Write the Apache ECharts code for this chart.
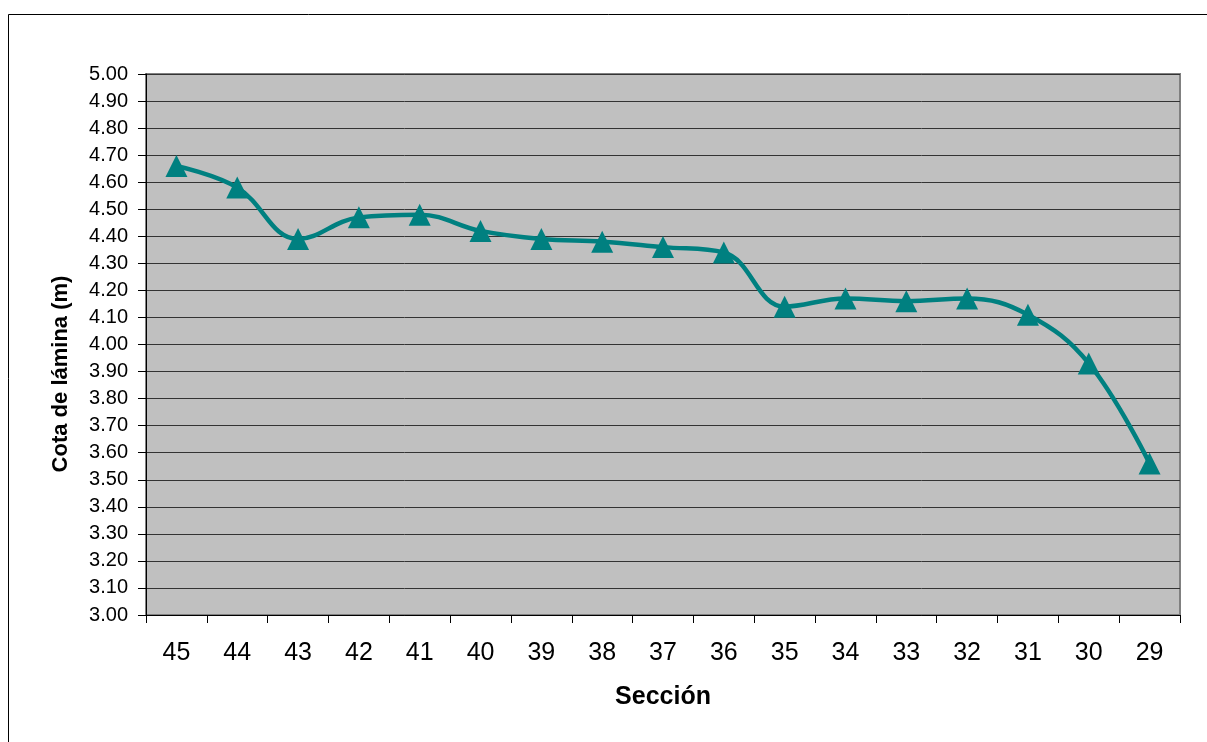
<!DOCTYPE html>
<html>
<head>
<meta charset="utf-8">
<script src="https://cdn.jsdelivr.net/npm/echarts@6/dist/echarts.min.js"></script>
<style>
  html, body { margin: 0; padding: 0; background: #ffffff; }
  #chart { width: 1207px; height: 742px; }
</style>
</head>
<body>
<div id="chart"></div>
<script>
// Sections along the reach, upstream to downstream
const secciones = ['45', '44', '43', '42', '41', '40', '39', '38', '37', '36', '35', '34', '33', '32', '31', '30', '29'];
// Water surface elevation at each section (m)
const cotaLamina = [4.66, 4.58, 4.39, 4.47, 4.48, 4.42, 4.39, 4.38, 4.36, 4.34, 4.14, 4.17, 4.16, 4.17, 4.11, 3.93, 3.56];

const yMin = 3.0, yMax = 5.0, yStep = 0.1;
const fontFamily = '"Liberation Sans", Arial, sans-serif';

const chart = echarts.init(document.getElementById('chart'), null, { renderer: 'canvas' });

chart.setOption({
  backgroundColor: '#ffffff',
  animation: false,
  textStyle: { fontFamily: fontFamily },
  graphic: [
    {
      type: 'rect',
      silent: true,
      shape: { x: 8.5, y: 14.5, width: 1400, height: 900 },
      style: { fill: 'none', stroke: '#000000', lineWidth: 1 }
    },
    {
      type: 'text',
      silent: true,
      x: 61, y: 374,
      rotation: Math.PI / 2,
      style: {
        text: 'Cota de lámina (m)',
        font: 'bold 22px ' + fontFamily,
        fill: '#000000',
        align: 'center',
        verticalAlign: 'middle'
      }
    }
  ],
  grid: {
    left: 146, top: 74, width: 1034, height: 541,
    show: true,
    backgroundColor: '#C0C0C0',
    borderColor: '#808080',
    borderWidth: 2
  },
  xAxis: {
    type: 'category',
    data: secciones,
    boundaryGap: true,
    name: 'Sección',
    nameLocation: 'middle',
    nameGap: 70,
    nameTextStyle: { fontSize: 25, fontWeight: 'bold', color: '#000000', fontFamily: fontFamily },
    axisLine: { lineStyle: { color: '#000000', width: 1 } },
    axisTick: { show: true, alignWithLabel: false, length: 8, lineStyle: { color: '#000000' } },
    axisLabel: { fontSize: 25, color: '#000000', margin: 26, fontFamily: fontFamily },
    splitLine: { show: false }
  },
  yAxis: {
    type: 'value',
    min: yMin, max: yMax, interval: yStep,
    axisLine: { show: true, lineStyle: { color: '#000000', width: 1 } },
    axisTick: { show: true, length: 8, lineStyle: { color: '#000000' } },
    axisLabel: {
      fontSize: 20, color: '#000000', margin: 18, fontFamily: fontFamily,
      formatter: v => v.toFixed(2)
    },
    splitLine: { show: true, lineStyle: { color: '#333333', width: 1 } }
  },
  series: [{
    type: 'line',
    data: cotaLamina,
    smooth: 0.4,
    symbol: 'triangle',
    symbolSize: 22,
    showAllSymbol: true,
    lineStyle: { color: '#008080', width: 4.5 },
    itemStyle: { color: '#008080' }
  }]
});
</script>
</body>
</html>
